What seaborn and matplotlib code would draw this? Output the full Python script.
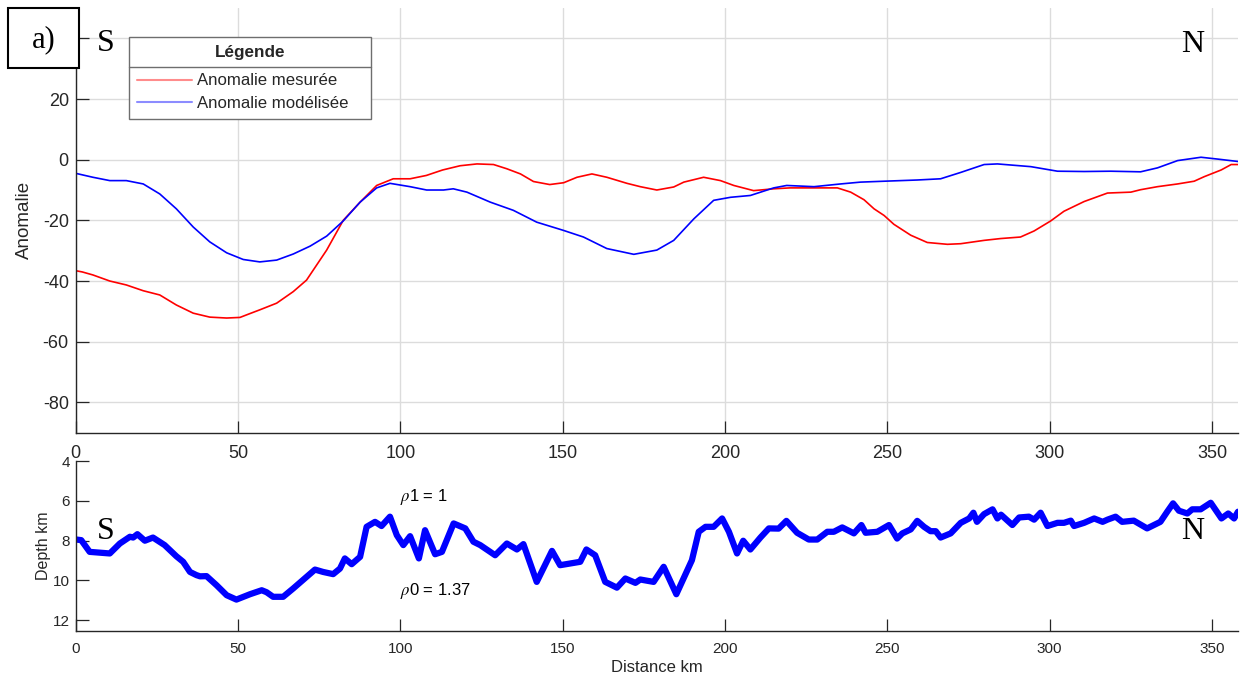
import numpy as np
import pandas as pd
import matplotlib
matplotlib.use("Agg")
import matplotlib.pyplot as plt
import seaborn as sns
from matplotlib.patches import Rectangle
from matplotlib.lines import Line2D

# ---------------- data ----------------
meas_km = [0, 2, 5.3, 10.5, 15.6, 20.8, 25.9, 31, 36.2, 41.3, 46.5, 50.6, 53.5, 56.7, 61.9,
           67, 71.1, 77.3, 82.4, 87.6, 92.7, 97.8, 103, 108, 113, 118.4, 123.6, 128.7,
           132.8, 137, 141, 146, 150.3, 154.4, 159, 163.6, 169.8, 173.9, 179, 184.2,
           187.3, 193.4, 198.6, 202.7, 208.8, 215, 220, 225.3, 230.5, 234.6, 238.7,
           242.8, 245.9, 249, 252, 257.2, 262.3, 268.5, 272.6, 279.8, 284.9, 291, 295.2,
           300.3, 304.4, 310.6, 317.8, 325, 328, 333.2, 339.4, 344.5, 347.6, 352.8,
           355.9, 358]
meas_val = [-36.6, -37, -38, -40, -41.3, -43.2, -44.6, -47.9, -50.6, -51.9, -52.2, -52,
            -50.8, -49.5, -47.3, -43.5, -39.7, -29.8, -20, -14, -8.5, -6.3, -6.3, -5.2,
            -3.4, -2, -1.4, -1.6, -3, -4.7, -7.2, -8.2, -7.6, -5.8, -4.7, -5.8, -7.8,
            -8.9, -10, -9, -7.4, -5.8, -6.9, -8.5, -10.2, -9.6, -9.3, -9.3, -9.3, -9.3,
            -10.7, -13.2, -16.2, -18.4, -21.3, -24.9, -27.3, -27.9, -27.7, -26.6, -26,
            -25.5, -23.5, -20.2, -17, -13.8, -11, -10.7, -9.9, -8.9, -8, -7.1, -5.6,
            -3.4, -1.6, -1.6]

model_km = [0, 5.3, 10.5, 15.6, 20.8, 25.9, 31, 36.2, 41.3, 46.5, 51.6, 56.7, 61.9, 67,
            72.2, 77.3, 82.4, 87.6, 92.7, 96.8, 103, 108.1, 113.3, 116.3, 120.5, 127.7,
            134.8, 142, 150.2, 156.4, 163.6, 171.9, 179, 184.2, 190.4, 196.5, 201.7,
            207.8, 215, 219, 227.4, 235.6, 241.7, 249, 259.2, 266.4, 272.6, 279.8, 283.9,
            294.2, 302.4, 310.6, 318.8, 328, 333.2, 339.4, 346.6, 351.7, 358]
model_val = [-4.5, -5.8, -6.9, -6.9, -8, -11.3, -16.2, -22.2, -27.1, -30.7, -32.9, -33.7,
             -33.1, -31.1, -28.5, -25.2, -20.2, -14, -9.3, -7.8, -8.9, -10, -10, -9.6,
             -10.7, -14, -16.7, -20.6, -23.3, -25.5, -29.3, -31.2, -29.8, -26.6, -19.5,
             -13.4, -12.4, -11.8, -9.3, -8.5, -8.9, -8, -7.4, -7.1, -6.7, -6.3, -4.2,
             -1.6, -1.4, -2.3, -3.8, -3.9, -3.8, -4, -2.7, -0.3, 0.8, 0.2, -0.6]

depth_km = [0.2, 1.7, 4.3, 10.5, 13.6, 16.7, 17.7, 19, 21.3, 23.8, 27.4, 31, 33.1, 35.2,
            37.2, 38.3, 40.3, 43.4, 46.5, 49.5, 53.7, 57.3, 58.8, 60.8, 63.9, 67, 71.1,
            73.7, 76.2, 79.3, 81.4, 82.9, 85, 87.6, 89.6, 92.2, 94.2, 96.8, 98.9, 100.9,
            103, 105.7, 107.6, 110.7, 112.8, 116.4, 120, 122.5, 124.6, 126.6, 129.2,
            132.8, 135.9, 137.9, 142, 146.7, 149.2, 155.4, 157.3, 160, 163.1, 166.7,
            169.3, 172.4, 173.9, 178, 181.1, 185, 189.8, 191.9, 194, 196.5, 199.1, 201.2,
            203.7, 205.6, 207.8, 210.9, 213.5, 216.5, 218.9, 222.2, 225.8, 228.4, 231.5,
            233.5, 236.1, 239.7, 242, 243.3, 246.9, 250.5, 253, 254.6, 257.2, 259.2,
            261.3, 263.3, 264.9, 266.4, 269.5, 272.6, 275.2, 276.5, 277.6, 279.8, 282.4,
            283.9, 285, 288.5, 290.6, 293.6, 295.2, 297.2, 299.3, 302.4, 304.4, 306.5,
            307.5, 310.6, 313.7, 316.3, 317.8, 320.3, 322.3, 325.9, 330, 334.1, 336.2,
            338, 339.8, 342.4, 343.9, 346.5, 349.6, 352.9, 355, 356.8, 358]
depth_val = [7.95, 7.98, 8.57, 8.65, 8.15, 7.81, 7.85, 7.68, 8.01, 7.85, 8.23, 8.79, 9.07,
             9.58, 9.74, 9.8, 9.79, 10.25, 10.75, 10.97, 10.7, 10.5, 10.6, 10.83, 10.83,
             10.41, 9.83, 9.46, 9.58, 9.69, 9.41, 8.9, 9.19, 8.82, 7.31, 7.06, 7.27, 6.8,
             7.73, 8.23, 7.78, 8.9, 7.48, 8.69, 8.57, 7.14, 7.39, 8.06, 8.23, 8.45, 8.74,
             8.15, 8.45, 8.18, 10.08, 8.52, 9.24, 9.07, 8.45, 8.74, 10.08, 10.37, 9.91,
             10.13, 9.96, 10.08, 9.32, 10.7, 8.99, 7.56, 7.31, 7.31, 6.89, 7.56, 8.65,
             8.01, 8.45, 7.85, 7.39, 7.4, 7.01, 7.61, 7.95, 7.95, 7.56, 7.56, 7.34, 7.64,
             7.22, 7.61, 7.56, 7.22, 7.9, 7.64, 7.44, 7.01, 7.31, 7.53, 7.53, 7.85, 7.64,
             7.11, 6.89, 6.6, 7.06, 6.67, 6.43, 6.89, 6.7, 7.22, 6.84, 6.8, 6.95, 6.6,
             7.27, 7.11, 7.11, 7.0, 7.27, 7.11, 6.89, 7.06, 6.95, 6.8, 7.06, 7.0, 7.39,
             7.06, 6.55, 6.13, 6.5, 6.64, 6.43, 6.43, 6.1, 6.89, 6.64, 6.89, 6.55]

series_labels = ["Anomalie mesurée", "Anomalie modélisée"]
legend_title = "Légende"
x_ticks = [0, 50, 100, 150, 200, 250, 300, 350]
top_y_ticks = [-80, -60, -40, -20, 0, 20, 40]
top_y_ticklabels = ['-80', '-60', '-40', '-20', '0', '20', '']  # 40 is hidden under the "a)" box
bot_y_ticks = [4, 6, 8, 10, 12]

# ---------------- style ----------------
sns.set_style("white")
plt.rcParams['font.family'] = ['Liberation Sans', 'DejaVu Sans']
plt.rcParams['mathtext.fontset'] = 'stix'
plt.rcParams['axes.unicode_minus'] = False
INK = '#262626'

fig = plt.figure(figsize=(12.42, 6.79), dpi=100)
ax1 = fig.add_axes([0.06095, 0.36274, 0.93583, 0.62548])
ax2 = fig.add_axes([0.06095, 0.07069, 0.93583, 0.25037])

df_meas = pd.DataFrame({'km': meas_km, 'val': meas_val})
df_model = pd.DataFrame({'km': model_km, 'val': model_val})
df_depth = pd.DataFrame({'km': depth_km, 'depth': depth_val})

sns.lineplot(data=df_meas, x='km', y='val', ax=ax1, color='#ff0000', lw=1.2,
             estimator=None, sort=False, label=series_labels[0])
sns.lineplot(data=df_model, x='km', y='val', ax=ax1, color='#0000ff', lw=1.2,
             estimator=None, sort=False, label=series_labels[1])
sns.lineplot(data=df_depth, x='km', y='depth', ax=ax2, color='#0000ff', lw=4.5,
             estimator=None, sort=False, legend=False)

for ax in (ax1, ax2):
    ax.set_xlim(0, 358)
    ax.set_xticks(x_ticks)
    for s in ('top', 'right'):
        ax.spines[s].set_visible(False)
    for s in ('left', 'bottom'):
        ax.spines[s].set_color(INK)
        ax.spines[s].set_linewidth(1.0)

# top axes
ax1.set_ylim(-90, 50)
ax1.set_yticks(top_y_ticks)
ax1.set_yticklabels(top_y_ticklabels)
ax1.set_axisbelow(True)
ax1.grid(True, color='#dcdcdc', lw=1.0)
ax1.tick_params(axis='both', direction='in', length=9, width=0.9, colors=INK, labelsize=13,
                bottom=True, left=True, top=False, right=False)
ax1.tick_params(axis='x', pad=9)
ax1.tick_params(axis='y', pad=5)
ax1.set_xlabel('')
ax1.set_ylabel('Anomalie', fontsize=13.5, color=INK, va='center')
ax1.yaxis.set_label_coords(-0.044, 0.5)

# bottom axes
ax2.set_ylim(12.55, 4)
ax2.set_yticks(bot_y_ticks)
ax2.grid(False)
ax2.tick_params(axis='both', direction='in', length=9, width=0.9, colors=INK, labelsize=11,
                bottom=True, left=True, top=False, right=False)
ax2.tick_params(axis='x', pad=8)
ax2.tick_params(axis='y', pad=4)
ax2.set_xlabel('Distance km', fontsize=12, color=INK, va='center')
ax2.xaxis.set_label_coords(0.5, -0.212)
ax2.set_ylabel('Depth km', fontsize=11.5, color=INK, va='center')
ax2.yaxis.set_label_coords(-0.0277, 0.5)

ax2.text(100, 5.8, r'$\rho$1 = 1', fontsize=12, color='black', ha='left', va='center')
ax2.text(100, 10.56, r'$\rho$0 = 1.37', fontsize=12, color='black', ha='left', va='center')

# legend
handles, labels = ax1.get_legend_handles_labels()
leg = ax1.legend(handles, labels, title=legend_title, loc='upper left',
                 bbox_to_anchor=(0.0459, 0.9317, 0.2082, 0.0), mode='expand',
                 borderaxespad=0, fancybox=False,
                 frameon=True, fontsize=12.1, handlelength=3.3, handletextpad=0.3,
                 borderpad=0.45, labelspacing=0.45,
                 title_fontproperties={'weight': 'bold', 'size': 12.3})
leg._legend_box.sep = 10  # larger gap between title and entries (points)
leg.get_frame().set_edgecolor('#6e6e6e')
leg.get_frame().set_linewidth(1.0)
leg.get_frame().set_alpha(None)
leg.get_frame().set_facecolor('white')
for h in leg.legend_handles:
    h.set_alpha(0.45)
    h.set_linewidth(1.5)
for t in leg.get_texts():
    t.set_color(INK)
leg.get_title().set_color(INK)

# S / N annotations
serif = ['Liberation Serif', 'DejaVu Serif']
H, W = 679.0, 1242.0
for (px, py, s) in [(105.5, 51, 'S'), (1192.5, 52, 'N'), (105.5, 539, 'S'), (1193, 539, 'N')]:
    fig.text(px / W, 1 - py / H, s, family=serif, fontsize=23, ha='center', va='baseline',
             color='black')

# a) box
fig.add_artist(Rectangle((8 / W, 1 - 68 / H), 71 / W, 60 / H, transform=fig.transFigure,
                         facecolor='white', edgecolor='black', lw=1.5, zorder=5))
fig.text(43.5 / W, 1 - 47 / H, 'a)', family=serif, fontsize=22, ha='center', va='baseline',
         color='black', zorder=6)

# separator line under legend title
fig.canvas.draw()
r = fig.canvas.get_renderer()
fb = leg.get_frame().get_window_extent(r)
tb = leg.get_title().get_window_extent(r)
eb = leg.get_texts()[0].get_window_extent(r)
ysep = (tb.y0 + eb.y1) / 2.0
inv = fig.transFigure.inverted()
(x0f, yf), (x1f, _) = inv.transform([(fb.x0, ysep), (fb.x1, ysep)])
fig.add_artist(Line2D([x0f, x1f], [yf, yf], transform=fig.transFigure, color='#6e6e6e',
                      lw=1.0, zorder=5))

fig.savefig('out.png', dpi=100)
